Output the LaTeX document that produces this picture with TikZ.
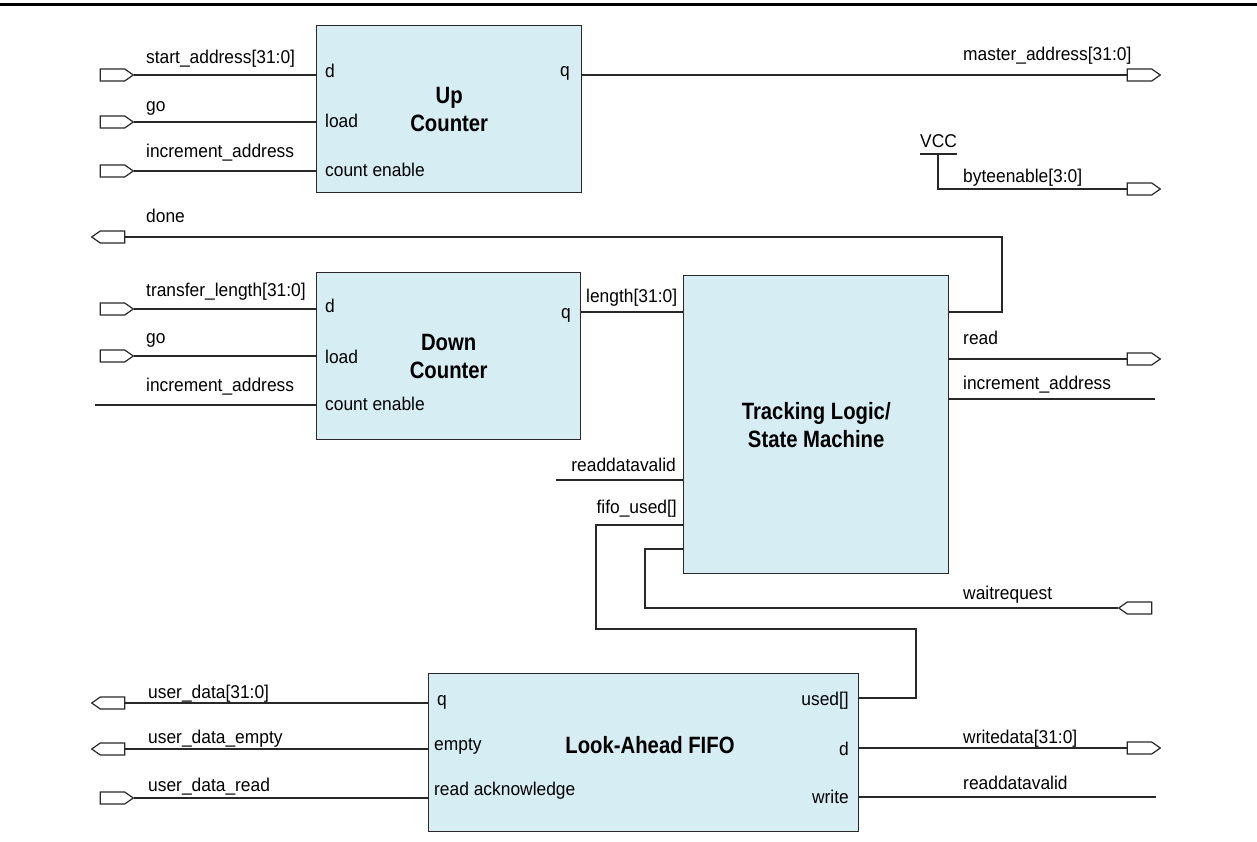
\documentclass[tikz,border=0pt]{standalone}
\usepackage{fontspec}
\setmainfont{Liberation Sans}[FakeStretch=0.94]
\newfontfamily\titlefont{Liberation Sans}[FakeStretch=0.86]
\usetikzlibrary{positioning, calc, shapes.symbols}

\definecolor{blockfill}{RGB}{214,237,244}
\definecolor{wirecol}{RGB}{40,40,40}

\begin{document}
\begin{tikzpicture}[
    x=1pt, y=-1pt,
    blk/.style={draw=wirecol, line width=1.4pt, fill=blockfill, anchor=north west,
      inner sep=0pt, align=center, font=\titlefont\fontsize{23.6}{28}\selectfont\bfseries},
    ttl/.style={inner sep=0pt, align=center, font=\titlefont\fontsize{23.6}{28}\selectfont\bfseries},
    port/.style={inner sep=0pt, anchor=base west, font=\fontsize{18.5}{20}\selectfont},
    rport/.style={port, anchor=base east},
    sig/.style={inner sep=0pt, anchor=base west, font=\fontsize{18.5}{20}\selectfont},
    rsig/.style={sig, anchor=base east},
    wire/.style={draw=wirecol, line width=1.3pt},
    pinin/.style={shape=signal, signal to=east, signal pointer angle=70, draw=wirecol,
      line width=1.2pt, fill=white, minimum width=33pt, minimum height=12pt, inner sep=0pt},
    pinout/.style={pinin, signal to=west}
  ]
  \useasboundingbox (0,0) rectangle (1257,842);
  \draw[draw=black, line width=3pt] (0,5) -- (1257,5);

  % blocks
  \node[blk, minimum width=265pt, minimum height=167pt] (up) at (316,25) {Up\\Counter};
  \node[blk, minimum width=264pt, minimum height=167pt] (down) at (316,272) {Down\\Counter};
  \node[blk, minimum width=265pt, minimum height=298pt] (track) at (683,275) {Tracking Logic/\\State Machine};
  \node[blk, minimum width=430pt, minimum height=158pt] (fifo) at (428,673) {};
  \node[ttl] (fifo-t) at (650,745) {Look-Ahead FIFO};

  % up counter
  \node[pinin] (p-start) at (112.5,75) {};
  \node[pinin] (p-go1) at (112.5,122) {};
  \node[pinin] (p-inc1) at (112.5,171) {};
  \draw[wire] (p-start.east) -- (p-start.east -| up.west);
  \draw[wire] (p-go1.east) -- (p-go1.east -| up.west);
  \draw[wire] (p-inc1.east) -- (p-inc1.east -| up.west);
  \node[sig] (l-start) at (146,64) {start\_address[31:0]};
  \node[sig] (l-go1) at (146,112) {go};
  \node[sig] (l-inc1) at (146,158) {increment\_address};
  \node[port] (up-d) at (325,78) {d};
  \node[port] (up-load) at (325,128) {load};
  \node[port] (up-ce) at (325,177) {count enable};
  \node[rport] (up-q) at (570,77) {q};

  \node[pinin] (p-master) at (1139.5,75) {};
  \draw[wire] (p-start.east -| up.east) -- (p-master.west);
  \node[sig] (l-master) at (963,61) {master\_address[31:0]};

  % byteenable tied to VCC
  \node[sig] (vcc) at (920,148) {VCC};
  \coordinate (vcc-bar) at (938,154);
  \node[pinin] (p-be) at (1139.5,189) {};
  \draw[wire] (vcc-bar -| vcc.west) -- (vcc-bar -| vcc.east);
  \draw[wire] (vcc-bar) |- (p-be.west);
  \node[sig] (l-be) at (963,183) {byteenable[3:0]};

  % done
  \node[pinout] (p-done) at (112.5,237) {};
  \draw[wire] (track.east |- 0,312) -| (1002,237) -- (p-done.east);
  \node[sig] (l-done) at (146,223) {done};

  % down counter
  \node[pinin] (p-len) at (112.5,309) {};
  \node[pinin] (p-go2) at (112.5,356) {};
  \coordinate (inc2) at (95,405);
  \draw[wire] (p-len.east) -- (p-len.east -| down.west);
  \draw[wire] (p-go2.east) -- (p-go2.east -| down.west);
  \draw[wire] (inc2) -- (inc2 -| down.west);
  \node[sig] (l-len) at (146,296) {transfer\_length[31:0]};
  \node[sig] (l-go2) at (146,343) {go};
  \node[sig] (l-inc2) at (146,391) {increment\_address};
  \node[port] (down-d) at (325,312) {d};
  \node[port] (down-load) at (325,363) {load};
  \node[port] (down-ce) at (325,410) {count enable};
  \node[rport] (down-q) at (571,318) {q};

  \draw[wire] (down.east |- 0,312) -- (track.west |- 0,312);
  \node[sig] (l-length) at (586,302) {length[31:0]};

  % tracking logic
  \node[pinin] (p-read) at (1139.5,359) {};
  \coordinate (inc3) at (1155,399);
  \draw[wire] (track.east |- p-read.west) -- (p-read.west);
  \draw[wire] (track.east |- inc3) -- (inc3);
  \node[sig] (l-read) at (963,344) {read};
  \node[sig] (l-inc3) at (963,389) {increment\_address};

  \coordinate (rdv1) at (556,480);
  \draw[wire] (rdv1) -- (rdv1 -| track.west);
  \node[rsig] (l-rdv1) at (676,471) {readdatavalid};
  \node[rsig] (l-used) at (677,513) {fifo\_used[]};
  \draw[wire] (track.west |- 0,525) -| (596,629) -| (916,698) -- (fifo.east |- 0,698);

  \node[pinout] (p-wait) at (1139.5,608) {};
  \draw[wire] (p-wait.west) -| (645,549) -- (track.west |- 0,549);
  \node[sig] (l-wait) at (963,599) {waitrequest};

  % fifo
  \node[pinout] (p-udata) at (112.5,703) {};
  \node[pinout] (p-uempty) at (112.5,749) {};
  \node[pinin] (p-uread) at (112.5,798) {};
  \draw[wire] (p-udata.east) -- (p-udata.east -| fifo.west);
  \draw[wire] (p-uempty.east) -- (p-uempty.east -| fifo.west);
  \draw[wire] (p-uread.east) -- (p-uread.east -| fifo.west);
  \node[sig] (l-udata) at (148,698) {user\_data[31:0]};
  \node[sig] (l-uempty) at (148,743) {user\_data\_empty};
  \node[sig] (l-uread) at (148,791) {user\_data\_read};
  \node[port] (fifo-q) at (437,705) {q};
  \node[port] (fifo-empty) at (434,750) {empty};
  \node[port] (fifo-ack) at (434,795) {read acknowledge};
  \node[rport] (fifo-used) at (849,705) {used[]};
  \node[rport] (fifo-d) at (849,755) {d};
  \node[rport] (fifo-write) at (849,803) {write};

  \node[pinin] (p-wdata) at (1139.5,748) {};
  \coordinate (rdv2) at (1156,797);
  \draw[wire] (fifo.east |- p-wdata.west) -- (p-wdata.west);
  \draw[wire] (fifo.east |- rdv2) -- (rdv2);
  \node[sig] (l-wdata) at (963,743) {writedata[31:0]};
  \node[sig] (l-rdv2) at (963,789) {readdatavalid};
\end{tikzpicture}
\end{document}
